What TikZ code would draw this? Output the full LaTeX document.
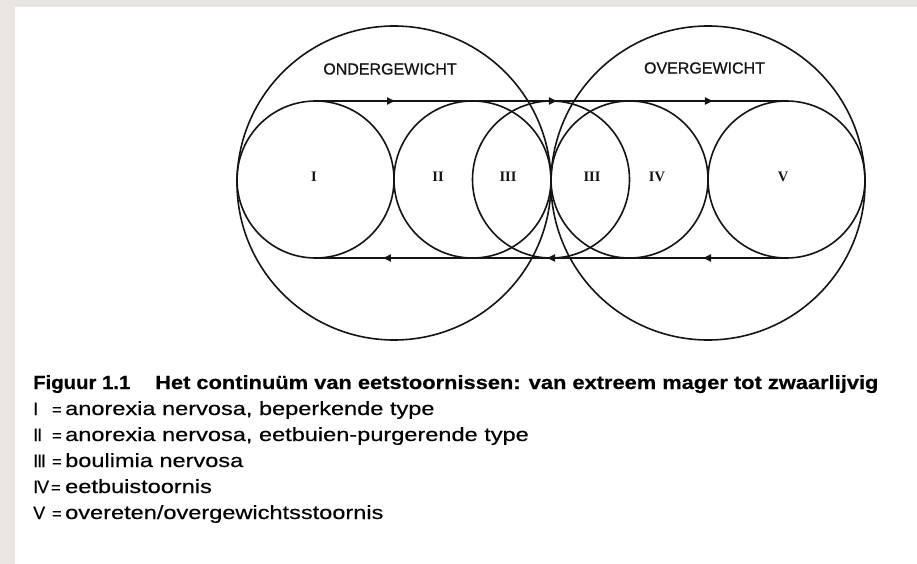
\documentclass[tikz,border=0pt]{standalone}
\usepackage{fontspec}
\setmainfont{Liberation Sans}
\newfontfamily\wide{Liberation Sans}[FakeStretch=1.24,FakeBold=0.4]
\newfontfamily\capwide{Liberation Sans}[FakeStretch=1.15,FakeBold=0.5]
\newfontfamily\capfig{Liberation Sans}[FakeStretch=1.07,FakeBold=0.5]
\newfontfamily\semib{Liberation Sans}[FakeBold=0.8]
\newfontfamily\plainnum{Liberation Sans}[FakeBold=0.4,LetterSpace=-6]
\newfontfamily\eqfont{Liberation Sans}[FakeBold=0.4]
\newfontfamily\rom{Liberation Serif}
\usetikzlibrary{arrows.meta,decorations.markings}
\definecolor{bggray}{HTML}{E9E5E1}
\definecolor{ink}{HTML}{141414}
\begin{document}
\begin{tikzpicture}[x=1pt,y=-1pt,
  >={Triangle[length=8pt,width=7pt]},
  ring/.style={circle, draw=ink, line width=1.6pt, inner sep=0pt, outer sep=0pt},
  smallring/.style={ring, minimum size=157pt},
  bigring/.style={ring, minimum size=314pt},
  numlabel/.style={font=\rom\bfseries\fontsize{14.5}{16}\selectfont, text=ink, inner sep=0pt},
  region/.style={font=\semib\fontsize{16}{18}\selectfont, text=ink, inner sep=0pt},
  captxt/.style={anchor=base west, inner sep=0pt, font=\capwide\bfseries\fontsize{19}{20}\selectfont},
  capfigtxt/.style={anchor=base west, inner sep=0pt, font=\capfig\bfseries\fontsize{19}{20}\selectfont},
  listnum/.style={anchor=base west, inner sep=0pt, font=\plainnum\fontsize{18}{20}\selectfont},
  listeq/.style={anchor=base west, inner sep=0pt, font=\eqfont\fontsize{16}{20}\selectfont},
  listtxt/.style={anchor=base west, inner sep=0pt, font=\wide\fontsize{19}{20}\selectfont},
  flowtop/.style={draw=ink, line width=1.7pt, postaction=decorate, decoration={markings,
    mark=at position 0.1688 with {\arrow{>}},
    mark=at position 0.5127 with {\arrow{>}},
    mark=at position 0.8439 with {\arrow{>}}}},
  flowbot/.style={draw=ink, line width=1.7pt, postaction=decorate, decoration={markings,
    mark=at position 0.1773 with {\arrow{>}},
    mark=at position 0.5085 with {\arrow{>}},
    mark=at position 0.8567 with {\arrow{>}}}}
]
\fill[bggray] (0,0) rectangle (917,564);
\fill[white] (15,7) rectangle (917,564);
\useasboundingbox (0,0) rectangle (917,564);

% big circles
\node[bigring] (under) at (394,183) {};
\node[bigring] (over) at (708,183) {};
% small circles
\node[smallring] (c1) at (315.5,179.5) {};
\node[smallring] (c2) at (472.5,179.5) {};
\node[smallring] (c3) at (551,179.5) {};
\node[smallring] (c4) at (629.5,179.5) {};
\node[smallring] (c5) at (786.5,179.5) {};
% flow lines
\path[flowtop] (c1.north) -- (c5.north);
\path[flowbot] (c5.south) -- (c1.south);
% region labels
\node[region] (lu) at (390,69) {ONDERGEWICHT};
\node[region] (lo) at (704.5,68) {OVERGEWICHT};
% numerals
\node[numlabel] (r1) at (314,177) {I};
\node[numlabel] (r2) at (438,177) {II};
\node[numlabel] (r3a) at (508,177) {III};
\node[numlabel] (r3b) at (592,177) {III};
\node[numlabel] (r4) at (657,177) {IV};
\node[numlabel] (r5) at (783,177) {V};
% caption
\node[capfigtxt] (fig) at (33,389) {Figuur 1.1};
\node[captxt] (title) at (155,389) {Het continuüm van eetstoornissen: van extreem mager tot zwaarlijvig};
% list
\node[listnum] (k1) at (33,415) {I};
\node[listeq] (e1) at (52,415) {=};
\node[listtxt] (t1) at (65,415) {anorexia nervosa, beperkende type};
\node[listnum] (k2) at (33,441) {II};
\node[listeq] (e2) at (52,441) {=};
\node[listtxt] (t2) at (65,441) {anorexia nervosa, eetbuien-purgerende type};
\node[listnum] (k3) at (33,467) {III};
\node[listeq] (e3) at (52,467) {=};
\node[listtxt] (t3) at (65,467) {boulimia nervosa};
\node[listnum] (k4) at (33,493) {IV};
\node[listeq] (e4) at (51,493) {=};
\node[listtxt] (t4) at (65,493) {eetbuistoornis};
\node[listnum] (k5) at (33,519) {V};
\node[listeq] (e5) at (52,519) {=};
\node[listtxt] (t5) at (65,519) {overeten/overgewichtsstoornis};
\end{tikzpicture}
\end{document}
